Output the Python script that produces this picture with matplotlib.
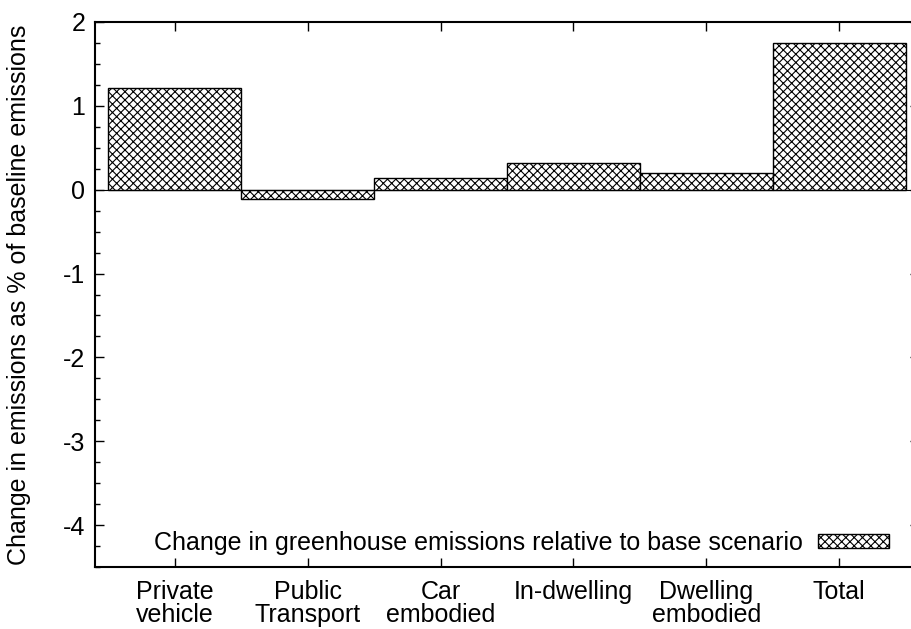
import matplotlib
matplotlib.use("Agg")
import matplotlib.pyplot as plt
from matplotlib.ticker import MultipleLocator

# bar data
categories = ["Private\nvehicle", "Public\nTransport", "Car\nembodied",
              "In-dwelling", "Dwelling\nembodied", "Total"]
change_pct = [1.21, -0.11, 0.14, 0.32, 0.20, 1.75]
y_ticks = [-4, -3, -2, -1, 0, 1, 2]
legend_label = "Change in greenhouse emissions relative to base scenario"
y_label = "Change in emissions as % of baseline emissions"

plt.rcParams["font.family"] = ["Liberation Sans", "DejaVu Sans"]
plt.rcParams["font.size"] = 18
plt.rcParams["hatch.linewidth"] = 0.8
plt.rcParams["hatch.color"] = "black"

W, H = 911, 629
fig = plt.figure(figsize=(W / 100, H / 100), dpi=100)
# gnuplot-like frame; right border falls just outside the picture
ax = fig.add_axes([95 / W, (H - 567.3) / H, (919 - 95) / W, (567.3 - 21.7) / H])

x = list(range(len(categories)))
ax.bar(x, change_pct, width=1.0, color="white", edgecolor="black",
       linewidth=1.0, hatch="xxxx", label=legend_label)
ax.axhline(0, color="black", linewidth=0.8)

ax.set_xlim(-0.6, 5.6)
ax.set_ylim(-4.5, 2)
ax.set_xticks(x)
ax.set_xticklabels(categories, linespacing=0.95)
ax.set_yticks(y_ticks)
ax.set_yticklabels([str(v) for v in y_ticks])
ax.yaxis.set_minor_locator(MultipleLocator(0.25))

ax.tick_params(axis="both", which="major", direction="in", top=True, right=True,
               length=6.5, width=1.0)
ax.tick_params(axis="y", which="minor", direction="in", right=True,
               length=3.6, width=1.0)
ax.tick_params(axis="x", pad=9)
ax.tick_params(axis="y", pad=7)
for sp in ax.spines.values():
    sp.set_linewidth(1.5)

ax.set_ylabel(y_label, labelpad=23)

ax.legend(loc="center right", bbox_to_anchor=(0.9636, 0.0445),
          frameon=False, markerfirst=False, borderpad=0, borderaxespad=0,
          handlelength=2.84, handleheight=0.44, handletextpad=0.6)

fig.savefig("out.png", dpi=100)
